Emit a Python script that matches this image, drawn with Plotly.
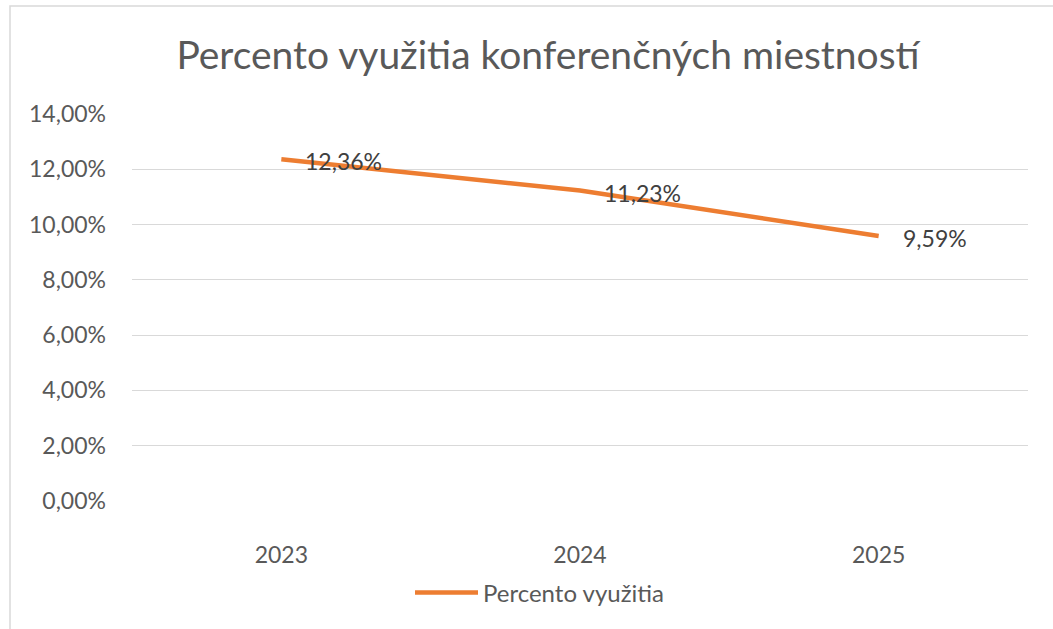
import plotly.graph_objects as go

years = ["2023", "2024", "2025"]
values = [0.1236, 0.1123, 0.0959]
tick_vals = [0, 0.02, 0.04, 0.06, 0.08, 0.10, 0.12, 0.14]
tick_text = ["0,00%", "2,00%", "4,00%", "6,00%", "8,00%", "10,00%", "12,00%", "14,00%"]
series_name = "Percento využitia"
title = "Percento využitia konferenčných miestností"

labels = [f"{v*100:.2f}%".replace(".", ",") for v in values]

FONT = "Lato, 'Open Sans', sans-serif"
FS = 23

fig = go.Figure()
fig.add_trace(go.Scatter(
    x=years, y=values, mode="lines", name=series_name,
    line=dict(color="#ED7D31", width=4.5),
    hoverinfo="skip",
))

# category axis: annotation x given as category index
annotations = [
    dict(x=i, y=v, xref="x", yref="y", text=lab, showarrow=False,
         xanchor="left", yanchor="middle", xshift=22, yshift=-2,
         font=dict(size=FS, color="#404040", family=FONT))
    for i, (v, lab) in enumerate(zip(values, labels))
]

W, H = 1053, 629
L, R, T, B = 132, 25, 114, 128
pw, ph = W - L - R, H - T - B

def px_x(px):
    return (px - L) / pw

def px_y(py):
    return (H - B - py) / ph

fig.update_layout(
    width=W, height=H,
    margin=dict(l=L, r=R, t=T, b=B, pad=0),
    paper_bgcolor="white", plot_bgcolor="white",
    font=dict(family=FONT, color="#595959"),
    title=dict(text=title, x=px_x(548), xanchor="center", xref="paper",
               y=1 - 55 / H, yanchor="middle",
               font=dict(size=39, color="#595959", family=FONT)),
    xaxis=dict(type="category", range=[-0.5, 2.5], showgrid=False, showline=False,
               zeroline=False, ticks="", tickfont=dict(size=FS, color="#595959"),
               ticklabelstandoff=38),
    yaxis=dict(range=[0, 0.14], tickvals=tick_vals, ticktext=tick_text,
               showgrid=True, gridcolor="#D9D9D9", gridwidth=1.3,
               zeroline=False, showline=False, ticks="",
               tickfont=dict(size=FS, color="#595959"), ticklabelstandoff=25),
    showlegend=True,
    legend=dict(orientation="h", x=px_x(540), xanchor="center", y=px_y(593), yanchor="middle",
                font=dict(size=24, color="#595959", family=FONT), itemwidth=63,
                bgcolor="rgba(0,0,0,0)"),
    annotations=annotations,
    shapes=[dict(type="rect", xref="paper", yref="paper",
                 x0=px_x(10), x1=px_x(1200), y0=px_y(800), y1=px_y(6),
                 line=dict(color="#D9D9D9", width=1.5), fillcolor="rgba(0,0,0,0)",
                 layer="below")],
)

fig.write_html("out.html", config={"displayModeBar": False},
               post_script="document.body.style.margin='0';")
